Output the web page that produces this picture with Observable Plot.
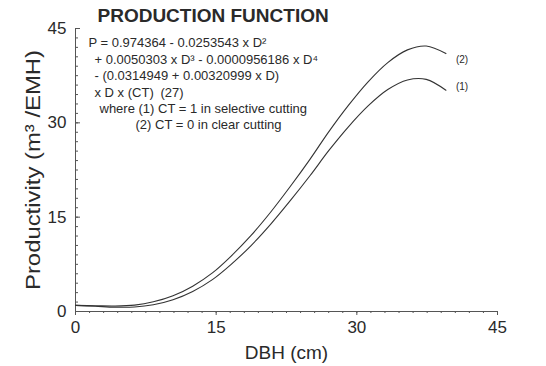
<!DOCTYPE html>
<html><head><meta charset="utf-8">
<script src="https://cdn.jsdelivr.net/npm/d3@7"></script>
<script src="https://cdn.jsdelivr.net/npm/@observablehq/plot@0.6"></script>
<style>
body{margin:0;background:#fff;}
#chart{width:546px;height:366px;overflow:hidden;}
</style>
</head><body><div id="chart"></div>
<script>
// DBH (cm)
const dbh = [0,2.1,4.2,6.3,8.3,10.4,12.5,14.6,16.6,18.7,20.8,22.9,25.0,27.0,29.1,31.2,33.3,35.4,37.4,39.5];
// (2) CT = 0, clear cutting
const clearCut = [0.97,0.91,0.87,1.02,1.54,2.51,4.03,6.14,8.82,12.06,15.78,19.87,24.19,28.56,32.77,36.52,39.58,41.60,42.21,41.01];
// (1) CT = 1, selective cutting
const selectiveCut = [0.97,0.84,0.69,0.72,1.08,1.88,3.19,5.07,7.50,10.45,13.86,17.62,21.58,25.57,29.37,32.69,35.29,36.82,36.91,35.18];
const seriesNames = ["(2)", "(1)"];
const xTicks = [0,15,30,45];
const yTicks = [0,15,30,45];
const title = "PRODUCTION FUNCTION";
const eqLines = [
  "P = 0.974364 - 0.0253543 x D²",
  "+ 0.0050303 x D³ - 0.0000956186 x D⁴",
  "- (0.0314949 + 0.00320999 x D)",
  "x D x (CT)",
  "(27)",
  "where (1) CT = 1 in selective cutting",
  "(2) CT = 0 in clear cutting"
];
const xLabel = "DBH (cm)";
const yLabel = "Productivity (m³ /EMH)";

const rows = [];
dbh.forEach((d,i)=>{
  rows.push({dbh:d, p:clearCut[i], s:seriesNames[0]});
  rows.push({dbh:d, p:selectiveCut[i], s:seriesNames[1]});
});
const last = dbh.length - 1;
const endClear = [{dbh:dbh[last], p:clearCut[last], s:seriesNames[0]}];
const endSel = [{dbh:dbh[last], p:selectiveCut[last], s:seriesNames[1]}];

const minor = d3.range(0, 45.001, 1.5);
const font = "'Liberation Sans', Arial, Helvetica, sans-serif";
const ink = "#2a2a2a";

function eq(i, dx, dy) {
  return Plot.text([eqLines[i]], {frameAnchor:"top-left", textAnchor:"start", lineAnchor:"middle", dx, dy, fontSize:13, fill:ink});
}

const chart = Plot.plot({
  width: 546, height: 366,
  marginLeft: 75, marginRight: 49, marginTop: 28, marginBottom: 55,
  style: {fontFamily: font, background: "#fff", color: ink},
  x: {domain:[0,45]},
  y: {domain:[0,45]},
  marks: [
    Plot.frame({anchor:"bottom", stroke:"#555"}),
    Plot.frame({anchor:"left", stroke:"#555"}),
    Plot.axisX({ticks: minor, tickSize: 2, tickFormat: () => "", stroke:"#555", label:null}),
    Plot.axisX({ticks: xTicks, tickSize: 4, tickPadding: 5, fontSize: 17, label: null, stroke:"#555", fill: ink}),
    Plot.axisY({ticks: minor, tickSize: -3, tickFormat: () => "", stroke:"#555", label:null}),
    Plot.axisY({ticks: yTicks, tickSize: 0, tickPadding: 9, fontSize: 17, label: null, fill: ink}),
    Plot.axisY({ticks: yTicks, tickSize: -5, tickFormat: () => "", stroke:"#555", label:null}),
    Plot.line(rows, {x:"dbh", y:"p", z:"s", curve:"catmull-rom", stroke:"#333", strokeWidth:1.1}),
    Plot.text(endClear, {x:"dbh", y:"p", text:"s", dx:10, dy:6, textAnchor:"start", fontSize:10, fill:ink}),
    Plot.text(endSel, {x:"dbh", y:"p", text:"s", dx:10, dy:-3, textAnchor:"start", fontSize:10, fill:ink}),
    Plot.text([title], {frameAnchor:"top-left", textAnchor:"start", lineAnchor:"middle", dx:22, dy:-13, fontSize:19, fontWeight:"bold", fill:ink}),
    eq(0, 13, 14),
    eq(1, 19, 31),
    eq(2, 19, 47),
    eq(3, 19, 64),
    eq(4, 85, 64),
    eq(5, 24, 80),
    eq(6, 60, 96),
    Plot.text([xLabel], {frameAnchor:"bottom", lineAnchor:"middle", dy:41, fontSize:19, fill:ink}),
    Plot.text([yLabel], {frameAnchor:"left", textAnchor:"middle", rotate:-90, lineAnchor:"middle", dx:-42, fontSize:20, fill:ink})
  ]
});
document.getElementById("chart").appendChild(chart);
chart.querySelectorAll("text").forEach(t => {
  if (t.textContent === yLabel) {
    t.setAttribute("textLength", 240);
    t.setAttribute("lengthAdjust", "spacingAndGlyphs");
  }
});
</script>
</body></html>
